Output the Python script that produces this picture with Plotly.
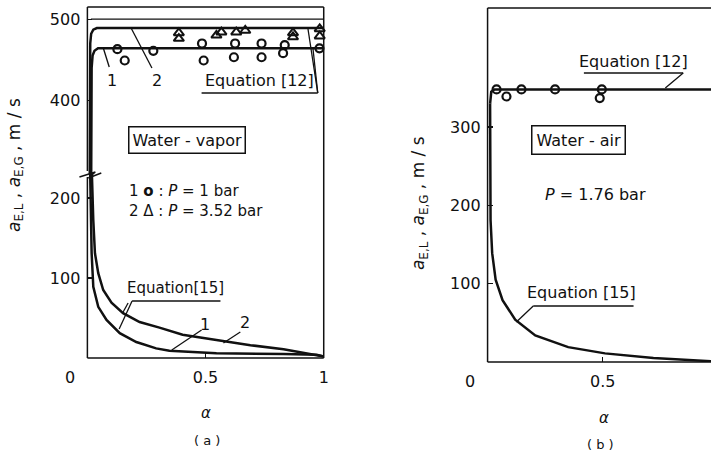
import plotly.graph_objects as go

W, H = 716, 452
FONT = "DejaVu Sans"
INK = "#111111"

# ---------------- data ----------------
# Panel (a): water-vapor
# Equation [15] curves (lower part of broken axis)
eq15_a1_alpha = [0.010, 0.014, 0.018, 0.025, 0.046, 0.081, 0.137, 0.207, 0.291, 0.347, 0.403, 0.546, 0.83, 0.97, 1.0]
eq15_a1_speed = [260, 200, 131, 89, 64, 47.5, 31, 20, 12, 9, 8, 6, 5, 4, 2]
eq15_a2_alpha = [0.016, 0.020, 0.025, 0.032, 0.046, 0.067, 0.102, 0.151, 0.221, 0.305, 0.403, 0.546, 0.69, 0.83, 0.97, 1.0]
eq15_a2_speed = [260, 215, 172, 131, 106, 85, 69, 56, 45, 38, 29, 22.5, 16, 11, 4, 2]
# Equation [12] curves (upper part of broken axis)
eq12_a1_alpha = [0.016, 0.018, 0.022, 0.030, 0.045, 1.0]
eq12_a1_speed = [300, 440, 455, 461, 464, 464]
eq12_a2_alpha = [0.010, 0.012, 0.016, 0.025, 0.040, 1.0]
eq12_a2_speed = [300, 470, 482, 487, 489, 489]
ref_a_alpha = [0.015, 1.0]
ref_a_speed = [500, 500]
# measured points
circ_a_alpha = [0.127, 0.158, 0.279, 0.485, 0.492, 0.625, 0.620, 0.737, 0.737, 0.835, 0.828, 0.982]
circ_a_speed = [463, 449, 461, 470, 449, 470, 453, 470, 453, 468, 458, 464]
tri_a_alpha = [0.387, 0.387, 0.546, 0.567, 0.630, 0.668, 0.870, 0.870, 0.983, 0.983]
tri_a_speed = [483, 476, 480, 484, 484, 486, 483, 478, 488, 479]

# Panel (b): water-air
eq15_b_alpha = [0.011, 0.013, 0.020, 0.035, 0.065, 0.12, 0.207, 0.35, 0.51, 0.72, 0.97]
eq15_b_speed = [330, 181, 139, 105, 79, 54, 34, 19, 11, 5, 1]
eq12_b_alpha = [0.011, 0.012, 0.016, 0.030, 0.97]
eq12_b_speed = [330, 338, 345, 348, 348]
circ_b_alpha = [0.039, 0.082, 0.147, 0.293, 0.496, 0.487]
circ_b_speed = [348, 339, 348, 348, 348, 337]

# tick labels
ticks_a_low = [100, 200]
ticks_a_up = [400, 500]
ticks_b = [100, 200, 300]
xticks_a = [0.5, 1]
xticks_b = [0.5]


def X(px):
    return px / W


def Y(py):
    return 1 - py / H


fig = go.Figure()


def add_line(xs, ys, xa, ya, width=2.5):
    fig.add_trace(go.Scatter(x=xs, y=ys, mode="lines", xaxis=xa, yaxis=ya,
                             line=dict(color=INK, width=width), hoverinfo="skip"))


add_line(eq15_a1_alpha, eq15_a1_speed, "x", "y")
add_line(eq15_a2_alpha, eq15_a2_speed, "x", "y")
add_line(eq12_a1_alpha, eq12_a1_speed, "x2", "y2")
add_line(eq12_a2_alpha, eq12_a2_speed, "x2", "y2")
add_line(ref_a_alpha, ref_a_speed, "x2", "y2", width=1.2)
fig.add_trace(go.Scatter(x=circ_a_alpha, y=circ_a_speed, mode="markers", xaxis="x2", yaxis="y2",
                         marker=dict(symbol="circle-open", size=8, color=INK, line=dict(width=2.2)),
                         cliponaxis=False, hoverinfo="skip"))
fig.add_trace(go.Scatter(x=tri_a_alpha, y=tri_a_speed, mode="markers", xaxis="x2", yaxis="y2",
                         marker=dict(symbol="triangle-up-open", size=9, color=INK, line=dict(width=2)),
                         cliponaxis=False, hoverinfo="skip"))

add_line(eq15_b_alpha, eq15_b_speed, "x3", "y3")
add_line(eq12_b_alpha, eq12_b_speed, "x3", "y3")
fig.add_trace(go.Scatter(x=circ_b_alpha, y=circ_b_speed, mode="markers", xaxis="x3", yaxis="y3",
                         marker=dict(symbol="circle-open", size=8, color=INK, line=dict(width=2.2)),
                         cliponaxis=False, hoverinfo="skip"))

tickfont = dict(family=FONT, size=16, color=INK)
common = dict(showgrid=False, zeroline=False, showline=False, ticks="inside", ticklen=5,
              tickwidth=1.3, tickcolor=INK, tickfont=tickfont, fixedrange=True)

fig.update_layout(
    width=W, height=H, margin=dict(l=0, r=0, t=0, b=0),
    paper_bgcolor="white", plot_bgcolor="white", showlegend=False,
    xaxis=dict(domain=[X(88), X(326)], range=[0, 1], anchor="y", tickvals=xticks_a,
               ticktext=[str(v) for v in xticks_a], ticklabelstandoff=8, **common),
    yaxis=dict(domain=[Y(358), Y(174)], range=[0, 230], anchor="x", tickvals=ticks_a_low,
               ticklabelstandoff=6, **common),
    xaxis2=dict(domain=[X(88), X(326)], range=[0, 1], anchor="y2", visible=False, matches="x"),
    yaxis2=dict(domain=[Y(174), Y(7)], range=[309, 515], anchor="x2", tickvals=ticks_a_up,
                ticklabelstandoff=6, **common),
    xaxis3=dict(domain=[X(491), 1], range=[0, 0.97], anchor="y3", tickvals=xticks_b,
                ticktext=[str(v) for v in xticks_b], ticklabelstandoff=8, **common),
    yaxis3=dict(domain=[Y(362), Y(8)], range=[0, 452], anchor="x3", tickvals=ticks_b,
                ticklabelstandoff=6, **common),
)

shapes = []


def seg(x0, y0, x1, y1, w=1.5):
    shapes.append(dict(type="line", xref="paper", yref="paper", x0=X(x0), y0=Y(y0),
                       x1=X(x1), y1=Y(y1), line=dict(color=INK, width=w)))


# frame (a) with axis break
seg(88, 7, 326, 7)
seg(326, 7, 326, 358)
seg(88, 358, 326, 358)
seg(88, 7, 88, 171)
seg(88, 177, 88, 358)
shapes.append(dict(type="path", xref="paper", yref="paper",
                   path=f"M {X(80)},{Y(177)} L {X(96)},{Y(172)} L {X(89)},{Y(178)} L {X(102)},{Y(173)}",
                   line=dict(color=INK, width=1.5)))
# frame (b)
seg(491, 8, 716, 8)
seg(491, 8, 491, 362)
seg(491, 362, 716, 362)

# leader lines (a)
seg(110, 67, 104, 48, 1.3)      # 1 -> eq12 curve 1
seg(153, 68, 132, 28, 1.3)      # 2 -> eq12 curve 2
seg(203, 93, 320, 93, 1.3)      # underline Equation [12]
seg(320, 93, 310, 28, 1.3)
seg(320, 93, 315, 47, 1.3)
seg(133, 301, 222, 301, 1.3)    # underline Equation [15]
seg(133, 301, 120, 329, 1.3)
seg(129, 303, 124, 312, 1.3)
seg(203, 330, 173, 350, 1.3)    # 1 -> eq15 curve 1
seg(242, 332, 225, 343, 1.3)    # 2 -> eq15 curve 2
# leader lines (b)
seg(588, 73, 688, 73, 1.3)
seg(688, 73, 670, 88, 1.3)
seg(537, 306, 638, 306, 1.3)
seg(537, 306, 520, 322, 1.3)

fig.update_layout(shapes=shapes)

ann = []


def text(px, py, s, size=16, xanchor="center", **kw):
    ann.append(dict(x=X(px), y=Y(py), xref="paper", yref="paper", text=s, showarrow=False,
                    xanchor=xanchor, yanchor="middle",
                    font=dict(family=FONT, size=size, color=INK), **kw))


ytitle = "<i>a</i><sub>E,L</sub> , <i>a</i><sub>E,G</sub> , m / s"
text(16, 165, ytitle, size=17, textangle=-90)
text(422, 203, ytitle, size=17, textangle=-90)

# x tick "0" labels, axis titles, panel labels
text(70, 377, "0")
text(473, 381, "0")
text(207, 413, "<i>α</i>", size=15)
text(608, 418, "<i>α</i>", size=15)
text(208, 440, "( a )", size=13)
text(605, 444, "( b )", size=13)

# panel (a) labels
text(113, 80, "1")
text(158, 80, "2")
text(261, 80, "Equation [12]")
text(188, 140, "Water - vapor", bordercolor=INK, borderwidth=1.5, borderpad=3)
text(128, 201, "1 <b>o</b> : <i>P</i> = 1 bar<br>2 Δ : <i>P</i> = 3.52 bar", size=15,
     xanchor="left", align="left")
text(177, 288, "Equation[15]", size=15)
text(206, 324, "1")
text(247, 322, "2")

# panel (b) labels
text(638, 61, "Equation [12]")
text(583, 140, "Water - air", bordercolor=INK, borderwidth=1.5, borderpad=4)
text(600, 195, "<i>P</i> = 1.76 bar")
text(586, 292, "Equation [15]")

fig.update_layout(annotations=ann)

fig.write_html("out.html", config={"displayModeBar": False, "staticPlot": True})

# remove the browser's default page margin so the figure sits at the window's corner
with open("out.html", encoding="utf-8") as f:
    html = f.read()
html = html.replace("<head>", "<head><style>html,body{margin:0;padding:0;overflow:hidden;}</style>", 1)
with open("out.html", "w", encoding="utf-8") as f:
    f.write(html)
